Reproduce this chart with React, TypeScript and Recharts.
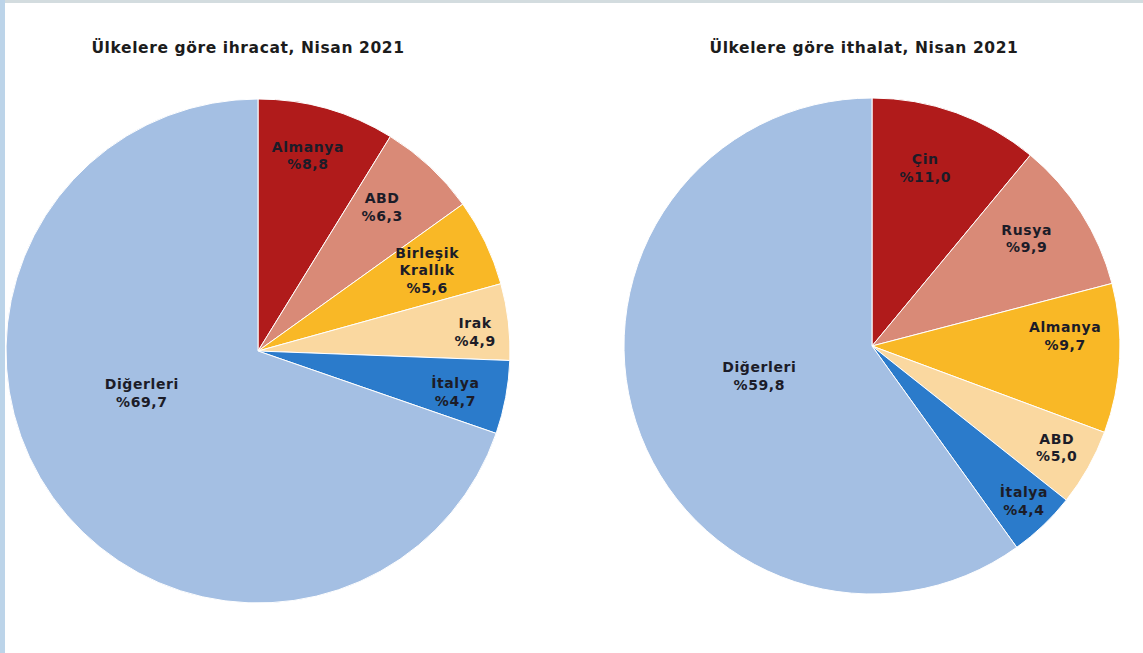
import { PieChart, Pie, Cell } from "recharts";

const exportCountries = ["Almanya", "ABD", "Birleşik Krallık", "Irak", "İtalya", "Diğerleri"];
const exportShares = [8.8, 6.3, 5.6, 4.9, 4.7, 69.7];

const importCountries = ["Çin", "Rusya", "Almanya", "ABD", "İtalya", "Diğerleri"];
const importShares = [11.0, 9.9, 9.7, 5.0, 4.4, 59.8];

const sliceColors = ["#b01b1b", "#d98a77", "#f9b826", "#fad8a0", "#2b7bcb", "#a4bfe3"];

const exportData = exportCountries.map((name, i) => ({ name, value: exportShares[i] }));
const importData = importCountries.map((name, i) => ({ name, value: importShares[i] }));

const FONT = "'DejaVu Sans', 'Liberation Sans', Arial, sans-serif";
const RAD = Math.PI / 180;

// label placement, Excel "best fit" style: share of radius + small turn (deg, clockwise)
const makeLabel = (dist: number[], turn: number[]) => (props: any) => {
  const { cx, cy, midAngle, outerRadius, index, name, value } = props;
  const r = outerRadius * dist[index];
  const a = (midAngle - turn[index]) * RAD;
  const x = cx + r * Math.cos(-a);
  const y = cy + r * Math.sin(-a);
  const lines = [...String(name).split(" "), "%" + Number(value).toFixed(1).replace(".", ",")];
  const lh = 17.5;
  return (
    <text
      x={x}
      y={y}
      textAnchor="middle"
      fill="#1c1c28"
      fontFamily={FONT}
      fontWeight="bold"
      fontSize={14}
      letterSpacing={0.6}
    >
      {lines.map((l, i) => (
        <tspan key={i} x={x} y={y - ((lines.length - 1) * lh) / 2 + i * lh} dominantBaseline="central">
          {l}
        </tspan>
      ))}
    </text>
  );
};

function OnePie({ data, title, cx, cy, r, dist, turn, left, titleX }: any) {
  return (
    <div style={{ position: "absolute", left, top: 0, width: 571, height: 653 }}>
      <div
        style={{
          position: "absolute",
          left: titleX - 220,
          width: 440,
          top: 39,
          textAlign: "center",
          fontFamily: FONT,
          fontWeight: "bold",
          fontSize: 15.5,
          letterSpacing: 0.6,
          color: "#1c1c1c",
        }}
      >
        {title}
      </div>
      <PieChart width={571} height={653} margin={{ top: 0, right: 0, bottom: 0, left: 0 }}>
        <Pie
          data={data}
          dataKey="value"
          nameKey="name"
          cx={cx}
          cy={cy}
          outerRadius={r}
          startAngle={90}
          endAngle={-270}
          stroke="#ffffff"
          strokeWidth={1}
          labelLine={false}
          label={makeLabel(dist, turn)}
          isAnimationActive={false}
        >
          {data.map((_: any, i: number) => (
            <Cell key={i} fill={sliceColors[i]} />
          ))}
        </Pie>
      </PieChart>
    </div>
  );
}

export default function App() {
  return (
    <div
      style={{
        position: "fixed",
        left: 0,
        top: 0,
        width: 1143,
        height: 653,
        background: "#ffffff",
        overflow: "hidden",
      }}
    >
      <div style={{ position: "absolute", left: 0, top: 0, width: 1143, height: 3, background: "#d3dcdf" }} />
      <div style={{ position: "absolute", left: 0, top: 0, width: 5, height: 653, background: "#bcd4e9" }} />
      <OnePie
        data={exportData}
        title="Ülkelere göre ihracat, Nisan 2021"
        cx={258}
        cy={351}
        r={252}
        dist={[0.8, 0.755, 0.744, 0.865, 0.8, 0.49]}
        turn={[-1.5, -2.3, 0, 1.6, 1.1, 15.6]}
        left={0}
        titleX={248}
      />
      <OnePie
        data={importData}
        title="Ülkelere göre ithalat, Nisan 2021"
        cx={301}
        cy={346}
        r={248}
        dist={[0.75, 0.76, 0.78, 0.85, 0.875, 0.47]}
        turn={[-3.2, -2.4, -5.9, -0.6, -0.8, 3]}
        left={571}
        titleX={293}
      />
    </div>
  );
}
